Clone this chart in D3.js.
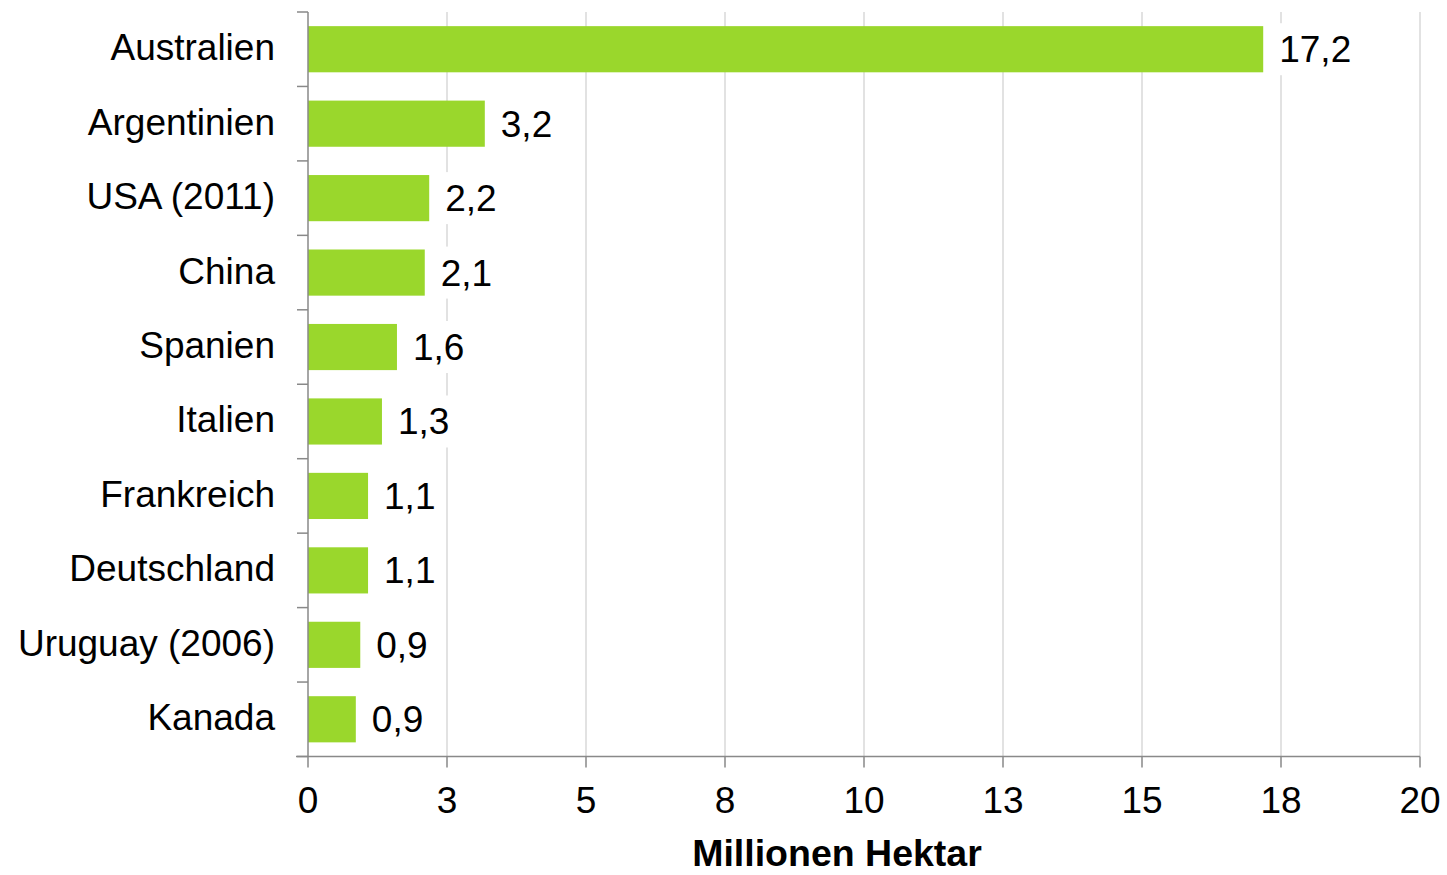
<!DOCTYPE html>
<html>
<head>
<meta charset="utf-8">
<script src="https://cdn.jsdelivr.net/npm/d3@7"></script>
<style>
  html, body { margin: 0; padding: 0; background: #fff; }
  svg { display: block; }
  text { font-family: "Liberation Sans", Arial, sans-serif; fill: #000; }
</style>
</head>
<body>
<svg id="chart" width="1447" height="875"></svg>
<script>
const categories = ["Australien", "Argentinien", "USA (2011)", "China", "Spanien", "Italien", "Frankreich", "Deutschland", "Uruguay (2006)", "Kanada"];
const values = [17.18, 3.18, 2.18, 2.10, 1.60, 1.33, 1.08, 1.08, 0.94, 0.86];
const tickValues = [0, 2.5, 5, 7.5, 10, 12.5, 15, 17.5, 20];
const tickLabels = ["0", "3", "5", "8", "10", "13", "15", "18", "20"];
const axisTitle = "Millionen Hektar";

(function () {
const data = categories.map((c, i) => ({ cat: c, val: values[i] }));

const svg = d3.select("#chart");
const pLeft = 308, pRight = 1420, pTop = 12, pBottom = 756.5;
const axisColor = "#898989", gridColor = "#d9d9d9", barColor = "#9ad72c";
const fontSize = 37;

const x = d3.scaleLinear().domain([0, 20]).range([pLeft, pRight]);
const y = d3.scaleBand().domain(categories).range([pTop, pBottom]).paddingInner(0.38).paddingOuter(0.19);

// gridlines
svg.append("g").selectAll("line").data(tickValues.slice(1)).join("line")
  .attr("x1", d => x(d)).attr("x2", d => x(d))
  .attr("y1", pTop).attr("y2", pBottom)
  .attr("stroke", gridColor).attr("stroke-width", 1.5);

// bars
svg.append("g").selectAll("rect").data(data).join("rect")
  .attr("x", x(0)).attr("y", d => y(d.cat))
  .attr("width", d => x(d.val) - x(0)).attr("height", y.bandwidth())
  .attr("fill", barColor);

// value labels with white background
const fmt = v => d3.format(".1f")(v).replace(".", ",");
const lblG = svg.append("g");
data.forEach(d => {
  const cy = y(d.cat) + y.bandwidth() / 2;
  const g = lblG.append("g");
  const rect = g.append("rect").attr("fill", "#fff");
  const t = g.append("text")
    .attr("x", x(d.val) + 16).attr("y", cy + 13)
    .attr("font-size", fontSize).text(fmt(d.val));
  const bb = t.node().getBBox();
  rect.attr("x", bb.x - 6).attr("y", cy - 26).attr("width", bb.width + 12).attr("height", 52);
});

// left axis (category axis) with band-boundary ticks
const yAxisG = svg.append("g");
yAxisG.append("line").attr("x1", pLeft).attr("x2", pLeft).attr("y1", pTop).attr("y2", pBottom)
  .attr("stroke", axisColor).attr("stroke-width", 1.5);
const step = y.step();
const boundaries = d3.range(categories.length + 1).map(i => pTop + i * step);
yAxisG.selectAll("line.tk").data(boundaries).join("line").attr("class", "tk")
  .attr("x1", pLeft - 11).attr("x2", pLeft).attr("y1", d => d).attr("y2", d => d)
  .attr("stroke", axisColor).attr("stroke-width", 1.5);
yAxisG.selectAll("text").data(categories).join("text")
  .attr("x", 275).attr("y", d => y(d) + y.bandwidth() / 2 + 11)
  .attr("text-anchor", "end").attr("font-size", fontSize).text(d => d);

// bottom axis
const xAxisG = svg.append("g");
xAxisG.append("line").attr("x1", pLeft - 12).attr("x2", pRight).attr("y1", pBottom).attr("y2", pBottom)
  .attr("stroke", axisColor).attr("stroke-width", 1.5);
xAxisG.selectAll("line.tk").data(tickValues).join("line").attr("class", "tk")
  .attr("x1", d => x(d)).attr("x2", d => x(d)).attr("y1", pBottom).attr("y2", pBottom + 11)
  .attr("stroke", axisColor).attr("stroke-width", 1.5);
xAxisG.selectAll("text").data(tickValues).join("text")
  .attr("x", d => x(d)).attr("y", 813)
  .attr("text-anchor", "middle").attr("font-size", fontSize)
  .text((d, i) => tickLabels[i]);

// axis title
svg.append("text").attr("x", 837).attr("y", 866)
  .attr("text-anchor", "middle").attr("font-size", 37.5).attr("font-weight", "bold")
  .text(axisTitle);
})();
</script>
</body>
</html>
